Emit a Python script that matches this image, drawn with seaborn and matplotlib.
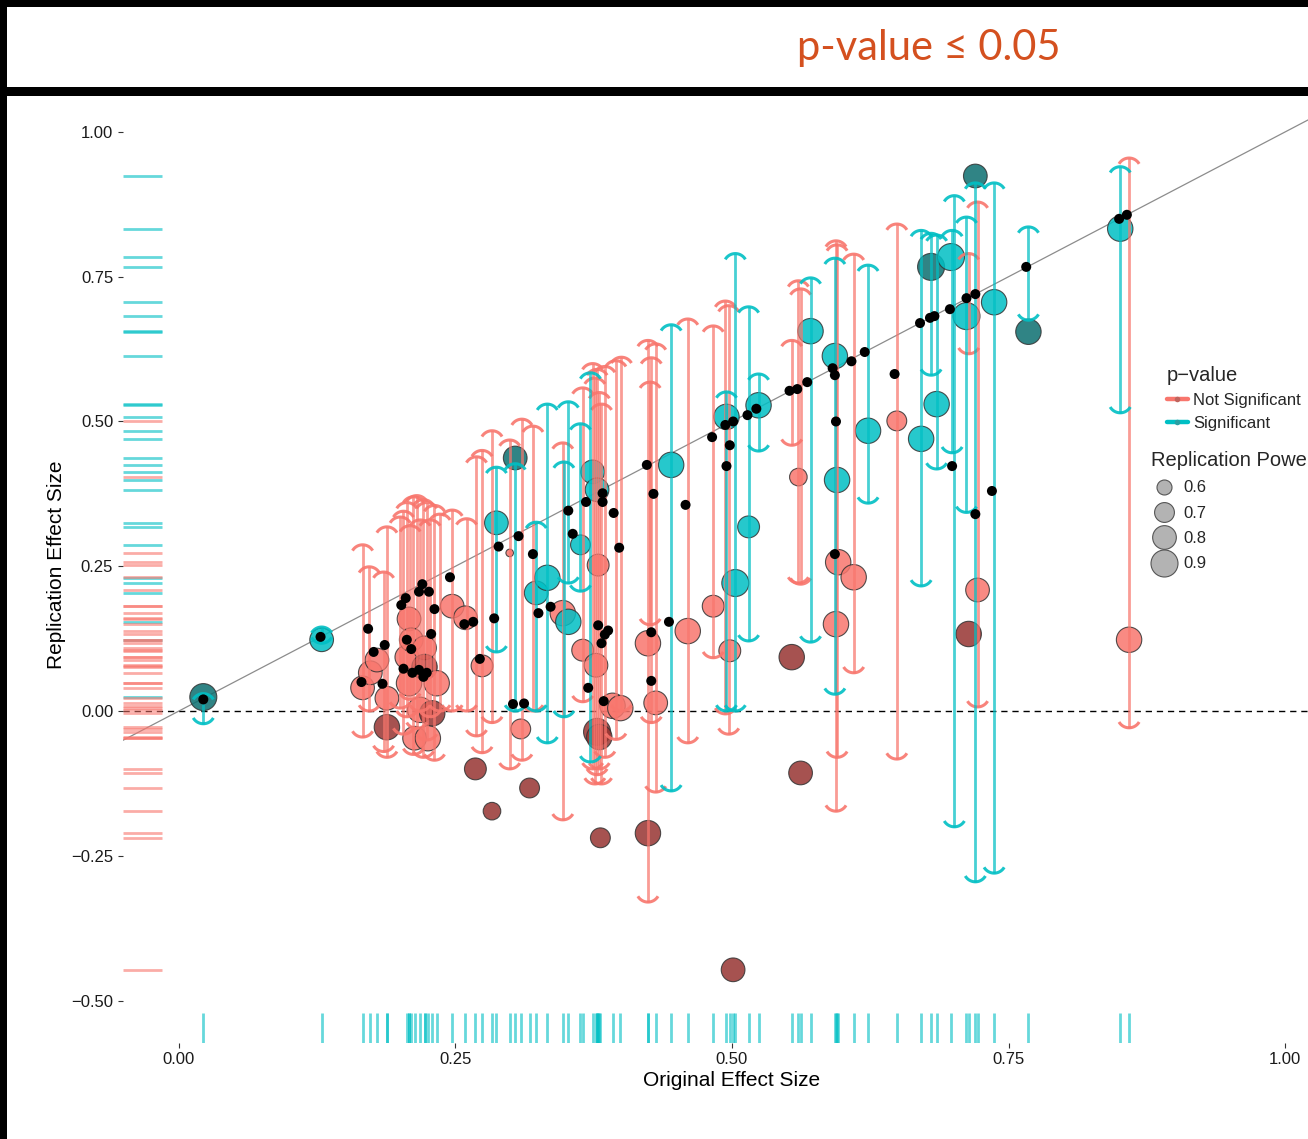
import numpy as np
import pandas as pd
import matplotlib
matplotlib.use("Agg")
import matplotlib.pyplot as plt
from matplotlib.path import Path
from matplotlib.lines import Line2D
from matplotlib.patches import Rectangle
import seaborn as sns

sns.set_theme(style="ticks")
plt.rcParams["font.family"] = ["Liberation Sans", "DejaVu Sans"]

# ---------------------------------------------------------------- data
# one entry per replicated study
orig_effect = [
    0.022, 0.129, 0.166, 0.173, 0.179, 0.188, 0.188, 0.206, 0.208, 0.208,
    0.210, 0.213, 0.218, 0.222, 0.222, 0.225, 0.229, 0.233, 0.247, 0.259,
    0.268, 0.274, 0.283, 0.287, 0.299, 0.304, 0.309, 0.317, 0.323, 0.333,
    0.347, 0.352, 0.363, 0.365, 0.374, 0.377, 0.378, 0.379, 0.378, 0.380,
    0.381, 0.392, 0.399, 0.424, 0.424, 0.431, 0.445, 0.460, 0.483, 0.495,
    0.498, 0.501, 0.503, 0.515, 0.524, 0.554, 0.560, 0.562, 0.571, 0.593,
    0.595, 0.596, 0.594, 0.610, 0.623, 0.649, 0.671, 0.680, 0.685, 0.698,
    0.712, 0.714, 0.720, 0.722, 0.737, 0.768, 0.851, 0.859,
]
rep_effect = [
    0.024, 0.123, 0.040, 0.066, 0.088, 0.022, -0.028, 0.093, 0.159, 0.048,
    0.123, -0.047, 0.002, 0.109, 0.076, -0.047, -0.004, 0.048, 0.181, 0.161,
    -0.100, 0.078, -0.173, 0.325, 0.273, 0.437, -0.031, -0.133, 0.204, 0.230,
    0.169, 0.154, 0.287, 0.105, 0.413, 0.079, 0.382, 0.252, -0.036, -0.045,
    -0.219, 0.009, 0.005, 0.117, -0.211, 0.014, 0.425, 0.138, 0.181, 0.508,
    0.104, -0.447, 0.221, 0.318, 0.528, 0.093, 0.404, -0.107, 0.656, 0.613,
    0.399, 0.257, 0.150, 0.231, 0.484, 0.501, 0.470, 0.767, 0.530, 0.784,
    0.682, 0.133, 0.924, 0.209, 0.706, 0.655, 0.833, 0.123,
]
rep_significant = [
    1, 1, 0, 0, 0, 0, 0, 0, 0, 0,
    0, 0, 0, 0, 0, 0, 0, 0, 0, 0,
    0, 0, 0, 1, 0, 1, 0, 0, 1, 1,
    0, 1, 1, 0, 1, 0, 1, 0, 0, 0,
    0, 0, 0, 0, 0, 0, 1, 0, 0, 1,
    0, 0, 1, 1, 1, 0, 0, 0, 1, 1,
    1, 0, 0, 0, 1, 0, 1, 1, 1, 1,
    1, 0, 1, 0, 1, 1, 1, 0,
]
rep_power = [
    0.90, 0.80, 0.80, 0.80, 0.80, 0.80, 0.85, 0.80, 0.80, 0.85,
    0.80, 0.80, 0.85, 0.80, 0.85, 0.85, 0.85, 0.85, 0.80, 0.80,
    0.75, 0.75, 0.65, 0.80, 0.50, 0.80, 0.70, 0.70, 0.80, 0.85,
    0.85, 0.85, 0.70, 0.75, 0.80, 0.80, 0.80, 0.75, 0.90, 0.85,
    0.70, 0.85, 0.85, 0.85, 0.85, 0.80, 0.85, 0.85, 0.75, 0.85,
    0.75, 0.80, 0.90, 0.75, 0.85, 0.85, 0.65, 0.80, 0.85, 0.85,
    0.85, 0.85, 0.85, 0.85, 0.85, 0.70, 0.85, 0.90, 0.85, 0.90,
    0.90, 0.85, 0.80, 0.80, 0.85, 0.85, 0.85, 0.85,
]
# studies drawn in the darker shade
rep_dark = [
    1, 0, 0, 0, 0, 0, 1, 0, 0, 0,
    0, 0, 0, 0, 1, 0, 1, 0, 0, 0,
    1, 0, 1, 0, 0, 1, 0, 1, 0, 0,
    0, 0, 0, 0, 0, 0, 0, 0, 1, 1,
    1, 0, 0, 0, 1, 0, 0, 0, 0, 0,
    0, 1, 0, 0, 0, 1, 0, 1, 0, 0,
    0, 0, 0, 0, 0, 0, 0, 1, 0, 0,
    0, 1, 1, 0, 0, 1, 0, 0,
]

# confidence intervals of the replication effects
ci_x = [
    0.022, 0.129, 0.166, 0.172, 0.185, 0.188, 0.200, 0.203, 0.206, 0.209,
    0.212, 0.215, 0.218, 0.221, 0.224, 0.227, 0.231, 0.236, 0.247, 0.260,
    0.269, 0.274, 0.283, 0.287, 0.299, 0.304, 0.310, 0.320, 0.323, 0.333,
    0.347, 0.348, 0.352, 0.363, 0.365, 0.372, 0.374, 0.376, 0.378, 0.380,
    0.382, 0.385, 0.395, 0.400, 0.424, 0.426, 0.427, 0.431, 0.445, 0.460,
    0.483, 0.494, 0.495, 0.497, 0.503, 0.515, 0.524, 0.554, 0.560, 0.562,
    0.571, 0.594, 0.595, 0.593, 0.610, 0.623, 0.649, 0.671, 0.680, 0.685,
    0.699, 0.701, 0.712, 0.714, 0.720, 0.722, 0.737, 0.768, 0.851, 0.859,
]
ci_low = [
    -0.022, 0.117, -0.045, 0.000, -0.070, -0.080, 0.005, -0.040, -0.010, 0.020,
    -0.075, -0.030, 0.000, -0.080, -0.050, -0.010, -0.085, 0.000, 0.000, 0.000,
    -0.043, -0.072, -0.020, 0.102, -0.100, 0.000, -0.085, 0.000, 0.000, -0.055,
    -0.188, -0.010, 0.221, 0.207, 0.016, -0.088, -0.100, -0.126, -0.110, -0.100,
    -0.126, -0.080, -0.049, 0.000, -0.330, 0.149, -0.020, -0.140, -0.138, -0.055,
    0.092, -0.005, 0.000, -0.040, 0.000, 0.121, 0.449, 0.459, 0.221, 0.219,
    0.119, -0.173, -0.080, 0.029, 0.066, 0.359, -0.083, 0.216, 0.580, 0.418,
    0.446, -0.200, 0.343, 0.617, -0.295, 0.007, -0.280, 0.675, 0.515, -0.029,
]
ci_high = [
    0.030, 0.145, 0.287, 0.249, 0.240, 0.318, 0.335, 0.345, 0.360, 0.320,
    0.370, 0.372, 0.330, 0.365, 0.360, 0.330, 0.355, 0.340, 0.347, 0.332,
    0.439, 0.450, 0.484, 0.421, 0.468, 0.427, 0.504, 0.492, 0.326, 0.530,
    0.463, 0.430, 0.534, 0.496, 0.558, 0.584, 0.600, 0.575, 0.590, 0.550,
    0.530, 0.595, 0.605, 0.611, 0.640, 0.568, 0.610, 0.634, 0.667, 0.677,
    0.665, 0.708, 0.551, 0.700, 0.790, 0.698, 0.582, 0.640, 0.743, 0.729,
    0.748, 0.812, 0.805, 0.782, 0.789, 0.770, 0.841, 0.830, 0.825, 0.822,
    0.830, 0.890, 0.853, 0.790, 0.912, 0.879, 0.912, 0.836, 0.940, 0.955,
]
ci_significant = [
    1, 1, 0, 0, 0, 0, 0, 0, 0, 0,
    0, 0, 0, 0, 0, 0, 0, 0, 0, 0,
    0, 0, 0, 1, 0, 1, 0, 0, 1, 1,
    0, 1, 1, 1, 0, 1, 0, 0, 0, 0,
    0, 0, 0, 0, 0, 0, 0, 0, 1, 0,
    0, 0, 1, 0, 1, 1, 1, 0, 0, 0,
    1, 0, 0, 1, 0, 1, 0, 1, 1, 1,
    1, 1, 1, 0, 1, 0, 1, 1, 1, 0,
]

# original effects (black dots)
orig_dot_x = [
    0.022, 0.128, 0.165, 0.171, 0.176, 0.184, 0.186, 0.201, 0.205, 0.203,
    0.206, 0.210, 0.211, 0.217, 0.217, 0.220, 0.221, 0.224, 0.226, 0.228,
    0.231, 0.245, 0.258, 0.266, 0.272, 0.285, 0.289, 0.302, 0.307, 0.312,
    0.320, 0.325, 0.336, 0.352, 0.356, 0.368, 0.370, 0.379, 0.382, 0.383,
    0.383, 0.384, 0.385, 0.388, 0.393, 0.398, 0.423, 0.427, 0.427, 0.429,
    0.443, 0.458, 0.482, 0.494, 0.495, 0.498, 0.501, 0.514, 0.522, 0.552,
    0.559, 0.568, 0.591, 0.593, 0.594, 0.593, 0.608, 0.620, 0.647, 0.670,
    0.679, 0.683, 0.697, 0.699, 0.712, 0.720, 0.720, 0.735, 0.766, 0.850,
    0.857,
]
orig_dot_y = [
    0.020, 0.128, 0.050, 0.142, 0.102, 0.047, 0.114, 0.183, 0.195, 0.073,
    0.123, 0.107, 0.066, 0.206, 0.071, 0.219, 0.059, 0.066, 0.206, 0.133,
    0.176, 0.231, 0.150, 0.154, 0.090, 0.160, 0.284, 0.012, 0.302, 0.013,
    0.271, 0.169, 0.180, 0.346, 0.306, 0.361, 0.040, 0.148, 0.117, 0.376,
    0.361, 0.017, 0.132, 0.139, 0.342, 0.282, 0.425, 0.136, 0.052, 0.375,
    0.154, 0.356, 0.473, 0.494, 0.423, 0.459, 0.500, 0.511, 0.522, 0.553,
    0.556, 0.568, 0.592, 0.580, 0.500, 0.271, 0.604, 0.620, 0.582, 0.670,
    0.679, 0.682, 0.694, 0.423, 0.713, 0.720, 0.340, 0.380, 0.767, 0.850,
    0.857,
]

power_levels = [0.6, 0.7, 0.8, 0.9]
x_ticks = [0.0, 0.25, 0.5, 0.75, 1.0]
y_ticks = [-0.5, -0.25, 0.0, 0.25, 0.5, 0.75, 1.0]

# ---------------------------------------------------------------- styling
SALMON = "#F8766D"
TEAL = "#00BFC4"
DARK_RED = "#973431"
DARK_TEAL = "#0B6F70"
SIG_LABELS = {0: "Not Significant", 1: "Significant"}


def marker_area(p):
    """Marker area (pt^2) growing linearly with replication power."""
    diam_px = np.sqrt(225.0 + 1680.0 * (p - 0.6))
    return (diam_px * 0.72) ** 2


studies = pd.DataFrame({
    "orig": orig_effect,
    "rep": rep_effect,
    "sig": [SIG_LABELS[s] for s in rep_significant],
    "power": rep_power,
    "dark": rep_dark,
})
studies["group"] = studies["sig"] + np.where(studies["dark"] == 1, " (dark)", "")
group_palette = {
    "Not Significant": SALMON,
    "Significant": TEAL,
    "Not Significant (dark)": DARK_RED,
    "Significant (dark)": DARK_TEAL,
}
size_map = {p: marker_area(p) for p in sorted(set(rep_power))}

intervals = pd.DataFrame({
    "x": ci_x, "low": ci_low, "high": ci_high,
    "sig": [SIG_LABELS[s] for s in ci_significant],
})
sig_palette = {"Not Significant": SALMON, "Significant": TEAL}

# horizontal parenthesis-shaped caps for the interval ends
_t = np.linspace(-np.pi / 3, np.pi / 3, 25)
cap_top = Path(np.column_stack([np.sin(_t), np.cos(_t) - 1.0]))
cap_bottom = Path(np.column_stack([np.sin(_t), 1.0 - np.cos(_t)]))

# ---------------------------------------------------------------- figure
W, H = 1308, 1139
fig = plt.figure(figsize=(W / 100, H / 100), dpi=100)
fig.patch.set_facecolor("white")

ax_left, ax_right, ax_top, ax_bottom = 123, 1341, 109, 1043
ax = fig.add_axes([ax_left / W, (H - ax_bottom) / H,
                   (ax_right - ax_left) / W, (ax_bottom - ax_top) / H])
ax.set_facecolor("white")

# reference lines
ax.axhline(0, color="black", lw=1.0, ls=(0, (4.5, 3.5)), zorder=1.5)
ax.axline((0, 0), slope=1, color="#8c8c8c", lw=0.9, zorder=1.5)

# marginal rugs
sns.rugplot(data=studies, y="rep", hue="sig", palette=sig_palette, height=0.032,
            linewidth=2.0, alpha=0.6, expand_margins=False, legend=False, ax=ax)
sns.rugplot(data=studies, x="orig", color=TEAL, height=0.032,
            linewidth=2.0, alpha=0.6, expand_margins=False, ax=ax)

# replication effects
sns.scatterplot(data=studies, x="orig", y="rep", hue="group",
                palette=group_palette, size="power", sizes=size_map,
                alpha=0.85, edgecolor="#333333", linewidth=0.8,
                legend=False, ax=ax, zorder=2)

# confidence intervals with curved caps
for label, col in sig_palette.items():
    sub = intervals[intervals["sig"] == label]
    ax.vlines(sub["x"], sub["low"], sub["high"], colors=col, lw=2.0,
              alpha=0.72, zorder=3)
    ax.scatter(sub["x"], sub["high"], marker=cap_top, s=210,
               facecolors="none", edgecolors=col, linewidths=2.2,
               alpha=0.9, zorder=3)
    ax.scatter(sub["x"], sub["low"], marker=cap_bottom, s=210,
               facecolors="none", edgecolors=col, linewidths=2.2,
               alpha=0.9, zorder=3)

# original effects
sns.scatterplot(x=orig_dot_x, y=orig_dot_y, color="black", s=52,
                edgecolor="none", linewidth=0, ax=ax, zorder=4)

# axes
ax.set_xlim(-0.0506, 1.0506)
ax.set_ylim(-0.5734, 1.0397)
sns.despine(ax=ax, left=True, bottom=True)
ax.set_xticks(x_ticks)
ax.set_xticklabels([f"{v:.2f}" for v in x_ticks])
ax.set_yticks(y_ticks)
ax.set_yticklabels([f"{v:.2f}".replace("-", "\u2212") for v in y_ticks])
ax.tick_params(axis="both", length=3.6, width=0.8, color="#333333",
               labelsize=12, labelcolor="#1a1a1a", bottom=True, left=True)
ax.tick_params(axis="x", pad=3)
ax.tick_params(axis="y", pad=3.5)
ax.set_xlabel("Original Effect Size", fontsize=15, color="black")
ax.set_ylabel("Replication Effect Size", fontsize=15, color="black")
ax.xaxis.set_label_coords(0.5, -0.030)
ax.yaxis.set_label_coords((66 - ax_left) / (ax_right - ax_left), 0.512)
ax.xaxis.label.set_verticalalignment("top")
ax.grid(False)

# legends
pv_handles = [
    Line2D([0], [0], color=SALMON, lw=3.2, marker="o", markersize=4,
           markerfacecolor="#c0645d", markeredgecolor="none"),
    Line2D([0], [0], color=TEAL, lw=3.2, marker="o", markersize=4,
           markerfacecolor="#2a9fa3", markeredgecolor="none"),
]
leg1 = fig.legend(pv_handles, ["Not Significant", "Significant"],
                  title="p\u2212value", loc="upper left",
                  bbox_to_anchor=(1167 / W, 1 - 366 / H), frameon=False,
                  fontsize=12, title_fontsize=14.5, handlelength=1.25,
                  handletextpad=0.3, labelspacing=0.48, borderpad=0,
                  borderaxespad=0, alignment="left")

pw_handles = [
    Line2D([0], [0], ls="none", marker="o", markersize=np.sqrt(marker_area(p)),
           markerfacecolor="#b3b3b3", markeredgecolor="#555555",
           markeredgewidth=0.8)
    for p in power_levels
]
leg2 = fig.legend(pw_handles, [f"{p:.1f}" for p in power_levels],
                  title="Replication Power", loc="upper left",
                  bbox_to_anchor=(1151 / W, 1 - 451 / H), frameon=False,
                  fontsize=12, title_fontsize=14.5, handlelength=1.5,
                  handletextpad=0.45, labelspacing=0.62, borderpad=0,
                  borderaxespad=0, alignment="left")

# header with black frame
fig.text(929 / W, 1 - 48 / H, "p-value \u2264 0.05", ha="center", va="center",
         color="#D4501F", fontsize=30, family=["Lato", "DejaVu Sans"])
for (x0, y0, w, h) in [(0, 0, W, 7), (0, 0, 7, H), (0, 87, W, 9)]:
    fig.add_artist(Rectangle((x0 / W, 1 - (y0 + h) / H), w / W, h / H,
                             transform=fig.transFigure, color="black", lw=0))

fig.savefig("out.png", dpi=100)
